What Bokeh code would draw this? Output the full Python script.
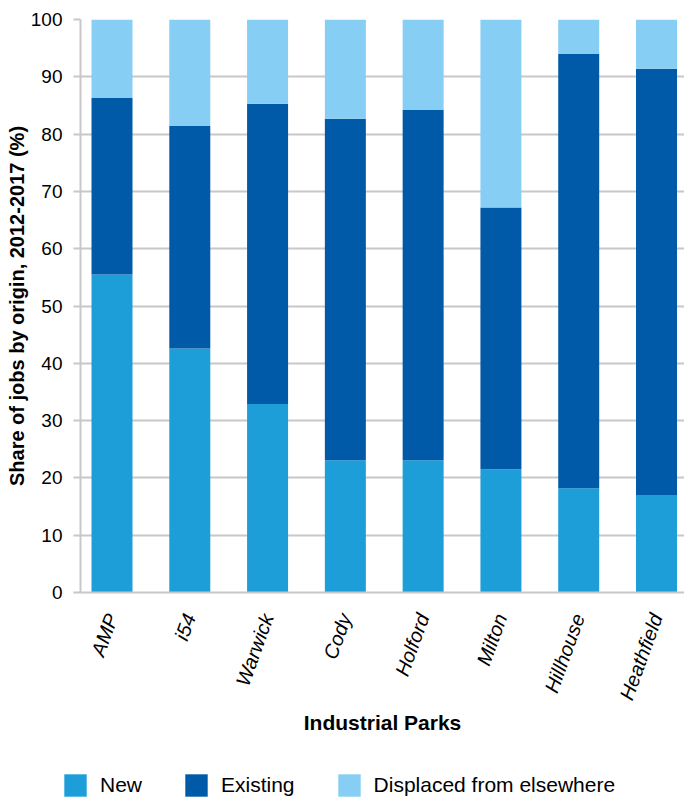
import math
from bokeh.plotting import figure
from bokeh.layouts import column
from bokeh.models import (Range1d, FixedTicker, Legend, LegendItem, Title,
                          ColumnDataSource)
from bokeh.embed import file_html
from bokeh.resources import INLINE

# ---- data -------------------------------------------------------------
parks = ["AMP", "i54", "Warwick", "Cody", "Holford", "Milton", "Hillhouse", "Heathfield"]
new = [55.5, 42.6, 32.9, 23.1, 23.1, 21.5, 18.2, 17.0]
existing = [30.8, 38.8, 52.4, 59.6, 61.1, 45.7, 75.8, 74.4]
displaced = [13.7, 18.6, 14.7, 17.3, 15.8, 32.8, 6.0, 8.6]
series = ["New", "Existing", "Displaced from elsewhere"]
y_ticks = [0, 10, 20, 30, 40, 50, 60, 70, 80, 90, 100]

colors = ["#1E9ED8", "#005AA7", "#86CEF4"]
FONT = "Liberation Sans"
GRID = "#c8c8c8"

xs = list(range(len(parks)))
src = ColumnDataSource(dict(x=xs, new=new, existing=existing, displaced=displaced))

p = figure(frame_width=604, frame_height=573, output_backend="svg", toolbar_location=None,
           x_range=Range1d(-0.405, 7.36), y_range=Range1d(0, 100),
           min_border_left=80, min_border_right=0, min_border_top=19,
           min_border_bottom=179)
p.frame_align = False
p.outline_line_color = None
p.background_fill_color = "white"

rs = p.vbar_stack(["new", "existing", "displaced"], x="x", width=0.527,
                  source=src, color=colors, line_color=None)

# x axis
p.xaxis.ticker = FixedTicker(ticks=xs)
p.xaxis.major_label_overrides = {i: n for i, n in zip(xs, parks)}
p.xaxis.major_label_orientation = math.radians(70)
p.xaxis.major_label_text_font = FONT
p.xaxis.major_label_text_font_style = "italic"
p.xaxis.major_label_text_font_size = "20px"
p.xaxis.major_label_text_color = "black"
p.xaxis.major_label_standoff = 22
p.xaxis.major_tick_out = 0
p.xaxis.major_tick_in = 0
p.xaxis.minor_tick_line_color = None
p.xaxis.axis_line_color = GRID
p.xaxis.axis_line_width = 2
p.xaxis.axis_label = "Industrial Parks"
p.xaxis.axis_label_text_font = FONT
p.xaxis.axis_label_text_font_style = "bold"
p.xaxis.axis_label_text_font_size = "21px"
p.xaxis.axis_label_text_color = "black"
p.xaxis.axis_label_standoff = 1

# y axis
p.yaxis.ticker = FixedTicker(ticks=y_ticks)
p.yaxis.major_label_text_font = FONT
p.yaxis.major_label_text_font_size = "19px"
p.yaxis.major_label_text_color = "black"
p.yaxis.major_label_standoff = 11
p.yaxis.major_tick_out = 7
p.yaxis.major_tick_in = 0
p.yaxis.major_tick_line_color = GRID
p.yaxis.major_tick_line_width = 2
p.yaxis.minor_tick_line_color = None
p.yaxis.axis_line_color = GRID
p.yaxis.axis_line_width = 2

p.xgrid.grid_line_color = None
p.ygrid.grid_line_color = GRID
p.ygrid.grid_line_width = 2

ytitle = Title(text="Share of jobs by origin, 2012-2017 (%)", align="center",
               text_font=FONT, text_font_style="bold", text_font_size="20px",
               text_color="black", standoff=0, offset=30)
p.add_layout(ytitle, "left")

# ---- legend strip (separate figure so it is not clipped) ---------------
# the same stacked bars are drawn here, but the y range keeps them out of view;
# they only serve as legend sources
lg = figure(width=684, height=27, output_backend="svg", toolbar_location=None,
            x_range=Range1d(-0.405, 7.36), y_range=Range1d(1000, 1001),
            x_axis_type=None, y_axis_type=None,
            min_border_left=0, min_border_right=0, min_border_top=0,
            min_border_bottom=0)
lg.frame_align = False
lg.outline_line_color = None
rs2 = lg.vbar_stack(["new", "existing", "displaced"], x="x", width=0.527,
                    source=src, color=colors, line_color=None)
legend = Legend(items=[LegendItem(label=s, renderers=[r]) for s, r in zip(series, rs2)],
                orientation="horizontal", location=(61, -1),
                glyph_width=28, glyph_height=28, label_height=28,
                label_standoff=11, spacing=40, padding=0, margin=0,
                label_text_font=FONT, label_text_font_size="21px",
                label_text_color="black",
                border_line_color=None, background_fill_alpha=0)
lg.add_layout(legend, "center")

open("out.html", "w").write(file_html(column(p, lg, spacing=0), INLINE))
